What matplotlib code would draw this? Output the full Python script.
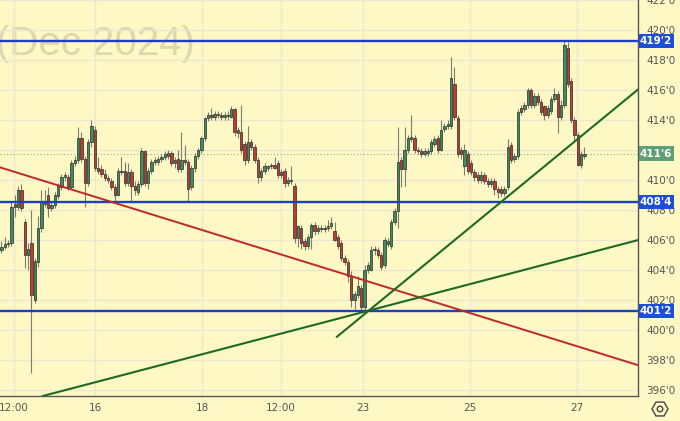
import numpy as np
import matplotlib.pyplot as plt
from matplotlib.patches import Rectangle, RegularPolygon, Circle
from matplotlib.transforms import blended_transform_factory

# OHLC, one candle per bar
opens = [405.3, 405.5, 405.7, 405.8, 408.4, 408.2, 409.3, 407.2, 405.0, 405.8,
         402.0, 404.5, 406.8, 408.4, 409.0, 408.1, 408.3, 408.9, 409.5, 410.2,
         410.2, 409.5, 411.1, 411.3, 412.8, 411.4, 409.8, 412.5, 413.3, 410.8,
         410.7, 410.4, 410.1, 409.9, 409.5, 409.0, 410.5, 410.6, 409.8, 410.5,
         409.6, 409.2, 409.7, 411.9, 409.8, 410.6, 411.2, 411.2, 411.4, 411.5,
         411.6, 411.8, 411.1, 411.4, 410.7, 411.3, 411.2, 409.5, 410.8, 411.6,
         412.0, 412.8, 414.1, 414.3, 414.2, 414.4, 414.3, 414.2, 414.25, 414.2,
         414.7, 413.1, 413.2, 412.4, 411.3, 412.5, 412.2, 411.3, 410.2, 410.6,
         410.8, 410.9, 411.0, 411.1, 410.5, 410.6, 409.8, 409.9, 409.6, 406.1,
         406.8, 405.9, 405.6, 406.2, 407.0, 406.6, 406.7, 406.8, 406.8, 406.9,
         406.6, 406.2, 405.8, 404.8, 404.5, 403.6, 402.0, 402.3, 402.8, 401.5,
         404.0, 404.0, 405.3, 405.3, 405.0, 404.3, 405.7, 405.6, 407.2, 407.9,
         411.3, 410.7, 412.0, 412.7, 412.8, 412.0, 411.9, 411.75, 411.8, 411.9,
         412.4, 412.8, 412.0, 413.4, 413.6, 413.6, 416.4, 414.1, 412.0, 410.9,
         411.7, 411.1, 410.5, 410.3, 410.0, 410.3, 409.9, 409.7, 409.9, 409.4,
         409.4, 409.1, 409.5, 412.3, 411.4, 411.6, 414.8, 414.7, 415.0, 416.0,
         415.0, 415.6, 415.2, 414.9, 414.3, 414.6, 415.4, 415.7, 414.2, 415.0,
         418.8, 416.6, 414.0, 413.0, 411.0, 411.6]
highs = [405.9, 406.2, 406.0, 408.5, 409.0, 409.6, 409.7, 407.4, 405.8, 408.0,
         404.8, 407.6, 409.3, 409.3, 409.5, 408.6, 409.2, 409.8, 410.4, 410.5,
         410.4, 411.3, 411.6, 413.5, 413.2, 411.6, 412.7, 414.0, 413.6, 411.5,
         411.0, 410.7, 410.3, 410.1, 409.7, 410.8, 411.5, 411.2, 411.1, 410.7,
         409.9, 409.9, 412.1, 412.0, 410.8, 411.4, 411.5, 411.6, 411.7, 411.9,
         412.0, 411.9, 411.5, 412.0, 413.2, 412.3, 411.4, 411.0, 411.8, 412.1,
         412.9, 414.2, 414.5, 414.8, 414.6, 414.6, 414.5, 414.5, 414.6, 414.9,
         414.8, 413.5, 415.0, 412.6, 413.6, 412.7, 412.4, 411.5, 410.8, 411.1,
         411.0, 411.1, 411.5, 411.3, 410.7, 410.8, 410.2, 410.9, 409.8, 407.0,
         407.0, 406.1, 406.4, 407.1, 407.2, 407.0, 407.0, 407.0, 407.3, 407.5,
         407.2, 406.4, 406.0, 405.0, 404.7, 403.9, 402.6, 403.6, 403.0, 404.3,
         404.5, 405.6, 405.6, 405.5, 405.2, 406.2, 406.1, 407.4, 408.1, 413.5,
         411.5, 413.5, 413.0, 414.3, 413.0, 412.2, 412.1, 412.1, 412.1, 412.7,
         412.9, 413.0, 414.0, 413.8, 414.0, 418.2, 417.5, 414.3, 412.2, 412.4,
         411.9, 411.3, 410.7, 410.5, 410.6, 410.5, 410.1, 410.1, 410.1, 409.6,
         409.6, 409.6, 412.7, 412.5, 411.8, 414.7, 415.0, 415.2, 416.1, 416.1,
         415.8, 415.8, 415.4, 415.0, 415.0, 415.6, 416.1, 415.9, 415.3, 419.3,
         419.2, 416.8, 414.2, 413.2, 411.9, 412.2]
lows = [405.1, 405.4, 405.5, 405.6, 407.5, 408.0, 407.9, 404.1, 404.0, 397.1,
        401.8, 404.2, 406.5, 408.2, 407.5, 407.9, 408.1, 408.7, 409.3, 409.9,
        409.3, 409.4, 410.9, 411.1, 411.2, 408.2, 409.6, 412.2, 410.6, 410.4,
        410.2, 409.9, 409.8, 409.3, 408.6, 408.9, 410.3, 409.6, 409.6, 408.5,
        409.0, 409.0, 409.5, 409.6, 409.4, 410.4, 411.0, 411.0, 411.2, 411.3,
        411.4, 410.9, 410.8, 410.5, 410.5, 411.0, 408.5, 409.3, 410.5, 411.4,
        411.8, 412.6, 413.9, 414.0, 414.0, 414.1, 414.0, 414.0, 414.0, 414.1,
        412.9, 412.8, 411.8, 411.0, 411.1, 412.0, 411.1, 409.8, 409.9, 410.4,
        410.6, 410.7, 410.7, 410.1, 410.1, 409.5, 409.6, 409.7, 405.8, 405.5,
        405.4, 405.3, 405.4, 405.4, 406.3, 406.4, 406.5, 406.5, 406.6, 406.7,
        405.9, 405.4, 404.6, 404.3, 403.2, 401.5, 401.4, 402.1, 401.2, 401.3,
        403.8, 403.9, 405.0, 404.8, 404.0, 404.1, 405.5, 405.4, 407.0, 406.8,
        409.5, 409.6, 411.8, 412.5, 411.8, 411.7, 411.5, 411.6, 411.6, 411.7,
        412.2, 411.8, 411.9, 413.2, 413.4, 413.4, 414.0, 411.5, 411.4, 410.3,
        410.4, 410.3, 409.9, 409.8, 409.8, 409.7, 409.5, 409.5, 409.0, 408.8,
        408.9, 408.9, 409.3, 411.1, 411.2, 411.4, 414.3, 414.5, 414.8, 414.8,
        414.8, 415.0, 414.3, 414.0, 414.1, 414.4, 415.2, 413.1, 414.0, 414.8,
        416.2, 413.8, 412.5, 410.9, 410.8, 411.4]
closes = [405.5, 405.7, 405.8, 408.2, 408.2, 409.3, 408.1, 405.0, 405.4, 402.3,
          404.6, 406.8, 408.5, 408.6, 408.1, 408.3, 409.0, 409.6, 410.2, 410.3,
          409.5, 411.1, 411.3, 412.8, 411.4, 409.8, 412.5, 413.6, 410.8, 410.6,
          410.4, 410.1, 410.0, 409.5, 409.0, 410.6, 410.6, 409.8, 410.5, 409.6,
          409.3, 409.7, 411.9, 409.8, 410.6, 411.2, 411.3, 411.4, 411.5, 411.7,
          411.8, 411.1, 411.3, 410.7, 411.3, 411.2, 409.4, 410.8, 411.6, 412.0,
          412.8, 414.1, 414.3, 414.2, 414.4, 414.3, 414.2, 414.3, 414.35, 414.7,
          413.2, 413.3, 412.0, 411.3, 412.5, 412.2, 411.3, 410.2, 410.6, 410.9,
          410.9, 410.95, 410.8, 410.3, 410.3, 409.8, 410.0, 410.0, 406.1, 406.9,
          405.8, 405.6, 406.2, 407.0, 406.6, 406.8, 406.8, 406.7, 406.9, 407.1,
          406.0, 405.6, 404.8, 404.5, 403.6, 402.0, 402.4, 402.9, 401.5, 404.0,
          404.3, 405.3, 405.4, 405.0, 404.2, 406.0, 405.9, 407.2, 407.9, 411.2,
          410.7, 412.0, 412.8, 412.85, 412.0, 411.9, 411.7, 411.9, 411.9, 412.5,
          412.7, 412.0, 413.3, 413.6, 413.7, 416.8, 414.2, 411.7, 411.7, 412.0,
          410.6, 410.5, 410.2, 410.0, 410.3, 409.9, 409.7, 409.9, 409.4, 409.2,
          409.1, 409.4, 412.2, 411.3, 411.6, 414.5, 414.5, 415.0, 416.0, 415.0,
          415.6, 415.2, 414.5, 414.3, 414.8, 415.4, 415.7, 414.2, 415.0, 419.0,
          416.4, 414.0, 413.0, 411.0, 411.7, 411.75]

# x axis labels at bar positions
tick_pos = [3.7, 28.1, 60.2, 83.9, 108.6, 140.7, 172.8]
tick_labels = ["12:00", "16", "18", "12:00", "23", "25", "27"]
price_ticks = list(range(396, 423, 2))

# horizontal levels and current price
levels = [419.25, 408.5, 401.25]
last_price = 411.75

# trend lines: (bar index, price) end points
red_x, red_y = [-0.45, 191.1], [410.83, 397.63]
steep_x, steep_y = [100.7, 191.0], [399.52, 416.01]
flat_x, flat_y = [12.4, 191.0], [395.57, 405.97]


def fmt(v):
    whole = int(np.floor(v + 1e-9))
    return f"{whole}'{int(round((v - whole) * 8))}"


# the 412'0 label sits fully under the current-price tag
price_labels = ["" if abs(v - last_price) < 0.5 else fmt(v) for v in price_ticks]

bg = "#fef8c5"
fig = plt.figure(figsize=(6.8, 4.21), dpi=100, facecolor=bg)
ax = fig.add_axes([0, 25 / 421, 638 / 680, 396 / 421])
ax.set_facecolor(bg)
ax.set_xlim(-0.45, 191.1)
ax.set_ylim(395.57, 421.97)

ax.set_xticks(tick_pos, tick_labels)
ax.set_yticks(price_ticks, price_labels)
ax.yaxis.tick_right()
ax.grid(color="#ebe7d2", lw=1, zorder=0)
ax.set_axisbelow(True)
ax.tick_params(axis="both", length=0, labelsize=7.5, colors="#555555")
ax.tick_params(axis="y", pad=6)
ax.tick_params(axis="x", pad=5)
for s in ["top", "left"]:
    ax.spines[s].set_visible(False)
for s in ["right", "bottom"]:
    ax.spines[s].set_color("#555555")
    ax.spines[s].set_linewidth(1)

# watermark
ax.text(195 / 638, (396 - 55) / 396, "(Dec 2024)", transform=ax.transAxes,
        ha="right", va="baseline", fontsize=29, color="#ddd7b0",
        family="Liberation Sans", zorder=0.5)

# candles
o = np.array(opens)
h = np.array(highs)
l = np.array(lows)
c = np.array(closes)
idx = np.arange(len(c))
up = c >= o
ax.vlines(idx, l, h, color="#7c7c70", lw=0.8, zorder=2)
ax.bar(idx, np.maximum(np.abs(c - o), 0.08), bottom=np.minimum(o, c), width=0.7,
       color=np.where(up, "#3f8f5c", "#c23b2e"), edgecolor="#2a2a2a",
       linewidth=0.5, zorder=3)

# current price dotted line
ax.axhline(last_price, color="#7fb58a", ls=(0, (1, 2)), lw=0.8, zorder=1)

# levels and trend lines
for lv in levels:
    ax.axhline(lv, color="#1c3fc4", lw=1.7, zorder=4)
ax.plot(red_x, red_y, color="#c1272d", lw=1.4, zorder=4)
ax.plot(steep_x, steep_y, color="#1d6b22", lw=1.5, zorder=4)
ax.plot(flat_x, flat_y, color="#1d6b22", lw=1.5, zorder=4)

# price tags on the right axis
trans = blended_transform_factory(ax.transAxes, ax.transData)
tags = [(lv, "#1c4fd8") for lv in levels] + [(last_price, "#5f9f74")]
for v, col in tags:
    ax.add_patch(Rectangle((1.0 + 1 / 638, v - 0.48), 35 / 638, 0.96,
                           transform=trans, clip_on=False, fc=col, ec="none", zorder=6))
    ax.text(1.0 + 18 / 638, v, fmt(v), transform=trans, ha="center", va="center",
            fontsize=7.5, color="white", fontweight="bold", zorder=7, clip_on=False)

# settings icon
fig.add_artist(RegularPolygon((6.60, 0.12), 6, radius=0.08, orientation=np.pi / 6,
                              transform=fig.dpi_scale_trans, fc="none", ec="#444444", lw=1))
fig.add_artist(Circle((6.60, 0.12), 0.028, transform=fig.dpi_scale_trans,
                      fc="none", ec="#444444", lw=1))

fig.savefig("out.png", dpi=100, facecolor=bg)
